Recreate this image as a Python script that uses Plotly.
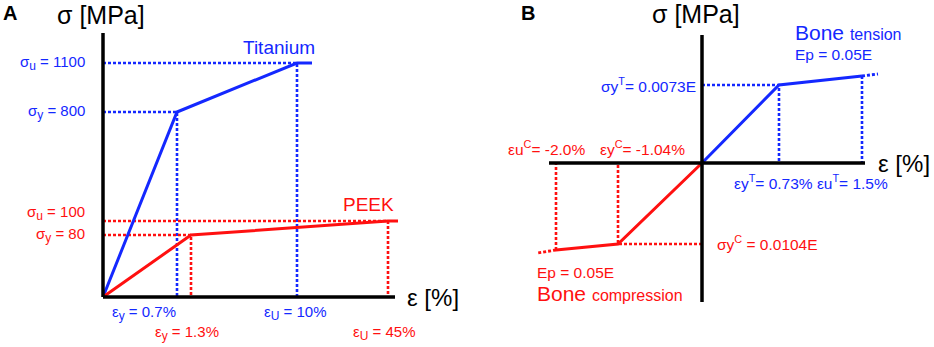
import plotly.graph_objects as go

BLUE = "#1428ff"
RED = "#ff1010"
FONT = "Liberation Sans, Arial, sans-serif"
DOT = "3px,2px"

# ---------- Panel A: schematic positions (schematic units, not to scale) ----------
A_AXIS_X = [0, 292]
A_AXIS_Y = [264, 0]
TI_X = [0, 74, 194, 209]        # origin, yield (0.7%), ultimate (10%), end
TI_Y = [0, 185, 234, 234]       # 0, 800, 1100, 1100 MPa
PEEK_X = [0, 88, 285, 295]      # origin, yield (1.3%), ultimate (45%), end
PEEK_Y = [0, 62, 76, 76]        # 0, 80, 100, 100 MPa

def sub(s):
    return "<sub><span style='font-size:12px'>" + s + "</span></sub>"

A_STRESS_LABELS = ["σ" + sub("u") + " = 1100", "σ" + sub("y") + " = 800",
                   "σ" + sub("u") + " = 100", "σ" + sub("y") + " = 80"]
A_STRESS_LABEL_Y = [234, 185, 84, 62]
A_STRESS_COLORS = [BLUE, BLUE, RED, RED]
A_STRAIN_LABELS = ["ε" + sub("y") + " = 0.7%", "ε" + sub("y") + " = 1.3%",
                   "ε" + sub("U") + " = 10%", "ε" + sub("U") + " = 45%"]
A_STRAIN_LABEL_X = [41, 84, 192, 281]
A_STRAIN_LABEL_Y = [-16, -36, -16, -36]
A_STRAIN_COLORS = [BLUE, RED, BLUE, RED]

# ---------- Panel B: schematic positions ----------
B_AXIS_X = [-153, 163]
B_AXIS_Y = [128, -139]
TEN_X = [0, 77, 160]
TEN_Y = [0, 78, 87]
TEN_EXT_X = [160, 176]
TEN_EXT_Y = [87, 89]
COMP_X = [0, -84, -146]
COMP_Y = [0, -81, -87]
COMP_EXT_X = [-146, -165]
COMP_EXT_Y = [-87, -90]

fig = go.Figure()

def line(x, y, color, width, dash=None, axis="A"):
    xa, ya = ("x", "y") if axis == "A" else ("x2", "y2")
    fig.add_trace(go.Scatter(x=x, y=y, mode="lines", xaxis=xa, yaxis=ya,
                             line=dict(color=color, width=width, dash=dash),
                             hoverinfo="skip", showlegend=False))

# ---- Panel A ----
line([0, TI_X[2], TI_X[2]], [TI_Y[2], TI_Y[2], 0], BLUE, 2.6, DOT)
line([0, TI_X[1], TI_X[1]], [TI_Y[1], TI_Y[1], 0], BLUE, 2.6, DOT)
line([0, PEEK_X[2], PEEK_X[2]], [PEEK_Y[2], PEEK_Y[2], 0], RED, 2.6, DOT)
line([0, PEEK_X[1], PEEK_X[1]], [PEEK_Y[1], PEEK_Y[1], 0], RED, 2.6, DOT)
line(TI_X, TI_Y, BLUE, 3)
line(PEEK_X, PEEK_Y, RED, 3)
line([0, 0], [0, A_AXIS_Y[0]], "black", 3.5)
line([0, A_AXIS_X[1]], [0, 0], "black", 3.5)

# ---- Panel B ----
line([0, TEN_X[1], TEN_X[1]], [TEN_Y[1], TEN_Y[1], 0], BLUE, 2.6, DOT, "B")
line([TEN_X[2], TEN_X[2]], [TEN_Y[2], 0], BLUE, 2.6, DOT, "B")
line([0, COMP_X[1], COMP_X[1]], [COMP_Y[1], COMP_Y[1], 0], RED, 2.6, DOT, "B")
line([COMP_X[2], COMP_X[2]], [COMP_Y[2], 0], RED, 2.6, DOT, "B")
line(TEN_EXT_X, TEN_EXT_Y, BLUE, 2.8, DOT, "B")
line(COMP_EXT_X, COMP_EXT_Y, RED, 2.8, DOT, "B")
line(TEN_X, TEN_Y, BLUE, 3, None, "B")
line(COMP_X, COMP_Y, RED, 3, None, "B")
line([0, 0], [B_AXIS_Y[1], B_AXIS_Y[0]], "black", 3.5, None, "B")
line([B_AXIS_X[0], B_AXIS_X[1]], [0, 0], "black", 3.5, None, "B")

ann = []
def text(x, y, s, color="black", size=15, xanchor="center", axis="A", bold=False):
    xr, yr = ("x", "y") if axis == "A" else ("x2", "y2")
    if bold:
        s = "<b>" + s + "</b>"
    ann.append(dict(x=x, y=y, xref=xr, yref=yr, text=s, showarrow=False,
                    xanchor=xanchor, yanchor="middle",
                    font=dict(family=FONT, size=size, color=color)))

# Panel A texts
text(-102, 284, "A", size=20, xanchor="left", bold=True)
text(-48, 282, "σ [MPa]", size=25, xanchor="left")
text(302, 0, "ε [%]", size=24, xanchor="left")
text(176, 250, "Titanium", BLUE, 19)
text(265, 93, "PEEK", RED, 19)
for lab, yy, c in zip(A_STRESS_LABELS, A_STRESS_LABEL_Y, A_STRESS_COLORS):
    text(-16, yy, lab, c, 15, xanchor="right")
for lab, xx, yy, c in zip(A_STRAIN_LABELS, A_STRAIN_LABEL_X, A_STRAIN_LABEL_Y, A_STRAIN_COLORS):
    text(xx, yy, lab, c, 15)

# Panel B texts
text(-183, 150, "B", size=20, xanchor="left", axis="B", bold=True)
text(-52, 149, "σ [MPa]", size=25, xanchor="left", axis="B")
text(174, 0, "ε [%]", size=24, xanchor="left", axis="B")
text(91, 131, "Bone <span style='font-size:16px'>tension</span>", BLUE, 21, xanchor="left", axis="B")
text(91, 109, "Ep = 0.05E", BLUE, 15.5, xanchor="left", axis="B")
text(-4, 78, "σy<sup>T</sup>= 0.0073E", BLUE, 15.5, xanchor="right", axis="B")
text(-196, 15, "εu<sup>C</sup>= -2.0%", RED, 15.5, xanchor="left", axis="B")
text(-104, 15, "εy<sup>C</sup>= -1.04%", RED, 15.5, xanchor="left", axis="B")
text(30, -19, "εy<sup>T</sup>= 0.73% εu<sup>T</sup>= 1.5%", BLUE, 15.5, xanchor="left", axis="B")
text(13, -80, "σy<sup>C</sup> = 0.0104E", RED, 15.5, xanchor="left", axis="B")
text(-167, -109, "Ep = 0.05E", RED, 15.5, xanchor="left", axis="B")
text(-167, -130, "Bone <span style='font-size:16px'>compression</span>", RED, 21, xanchor="left", axis="B")

axis_common = dict(visible=False, showgrid=False, zeroline=False, fixedrange=True)
fig.update_layout(
    width=934, height=347,
    margin=dict(l=0, r=0, t=0, b=0),
    paper_bgcolor="white", plot_bgcolor="white",
    xaxis=dict(domain=[0, 0.5], range=[-103, 364], **axis_common),
    yaxis=dict(domain=[0, 1], range=[-50, 297], **axis_common),
    xaxis2=dict(domain=[0.5, 1], range=[-235, 232], anchor="y2", **axis_common),
    yaxis2=dict(domain=[0, 1], range=[-184, 163], anchor="x2", **axis_common),
    annotations=ann,
    showlegend=False,
)

fig.write_html("out.html", config={"displayModeBar": False},
               post_script="document.body.style.margin='0';")
